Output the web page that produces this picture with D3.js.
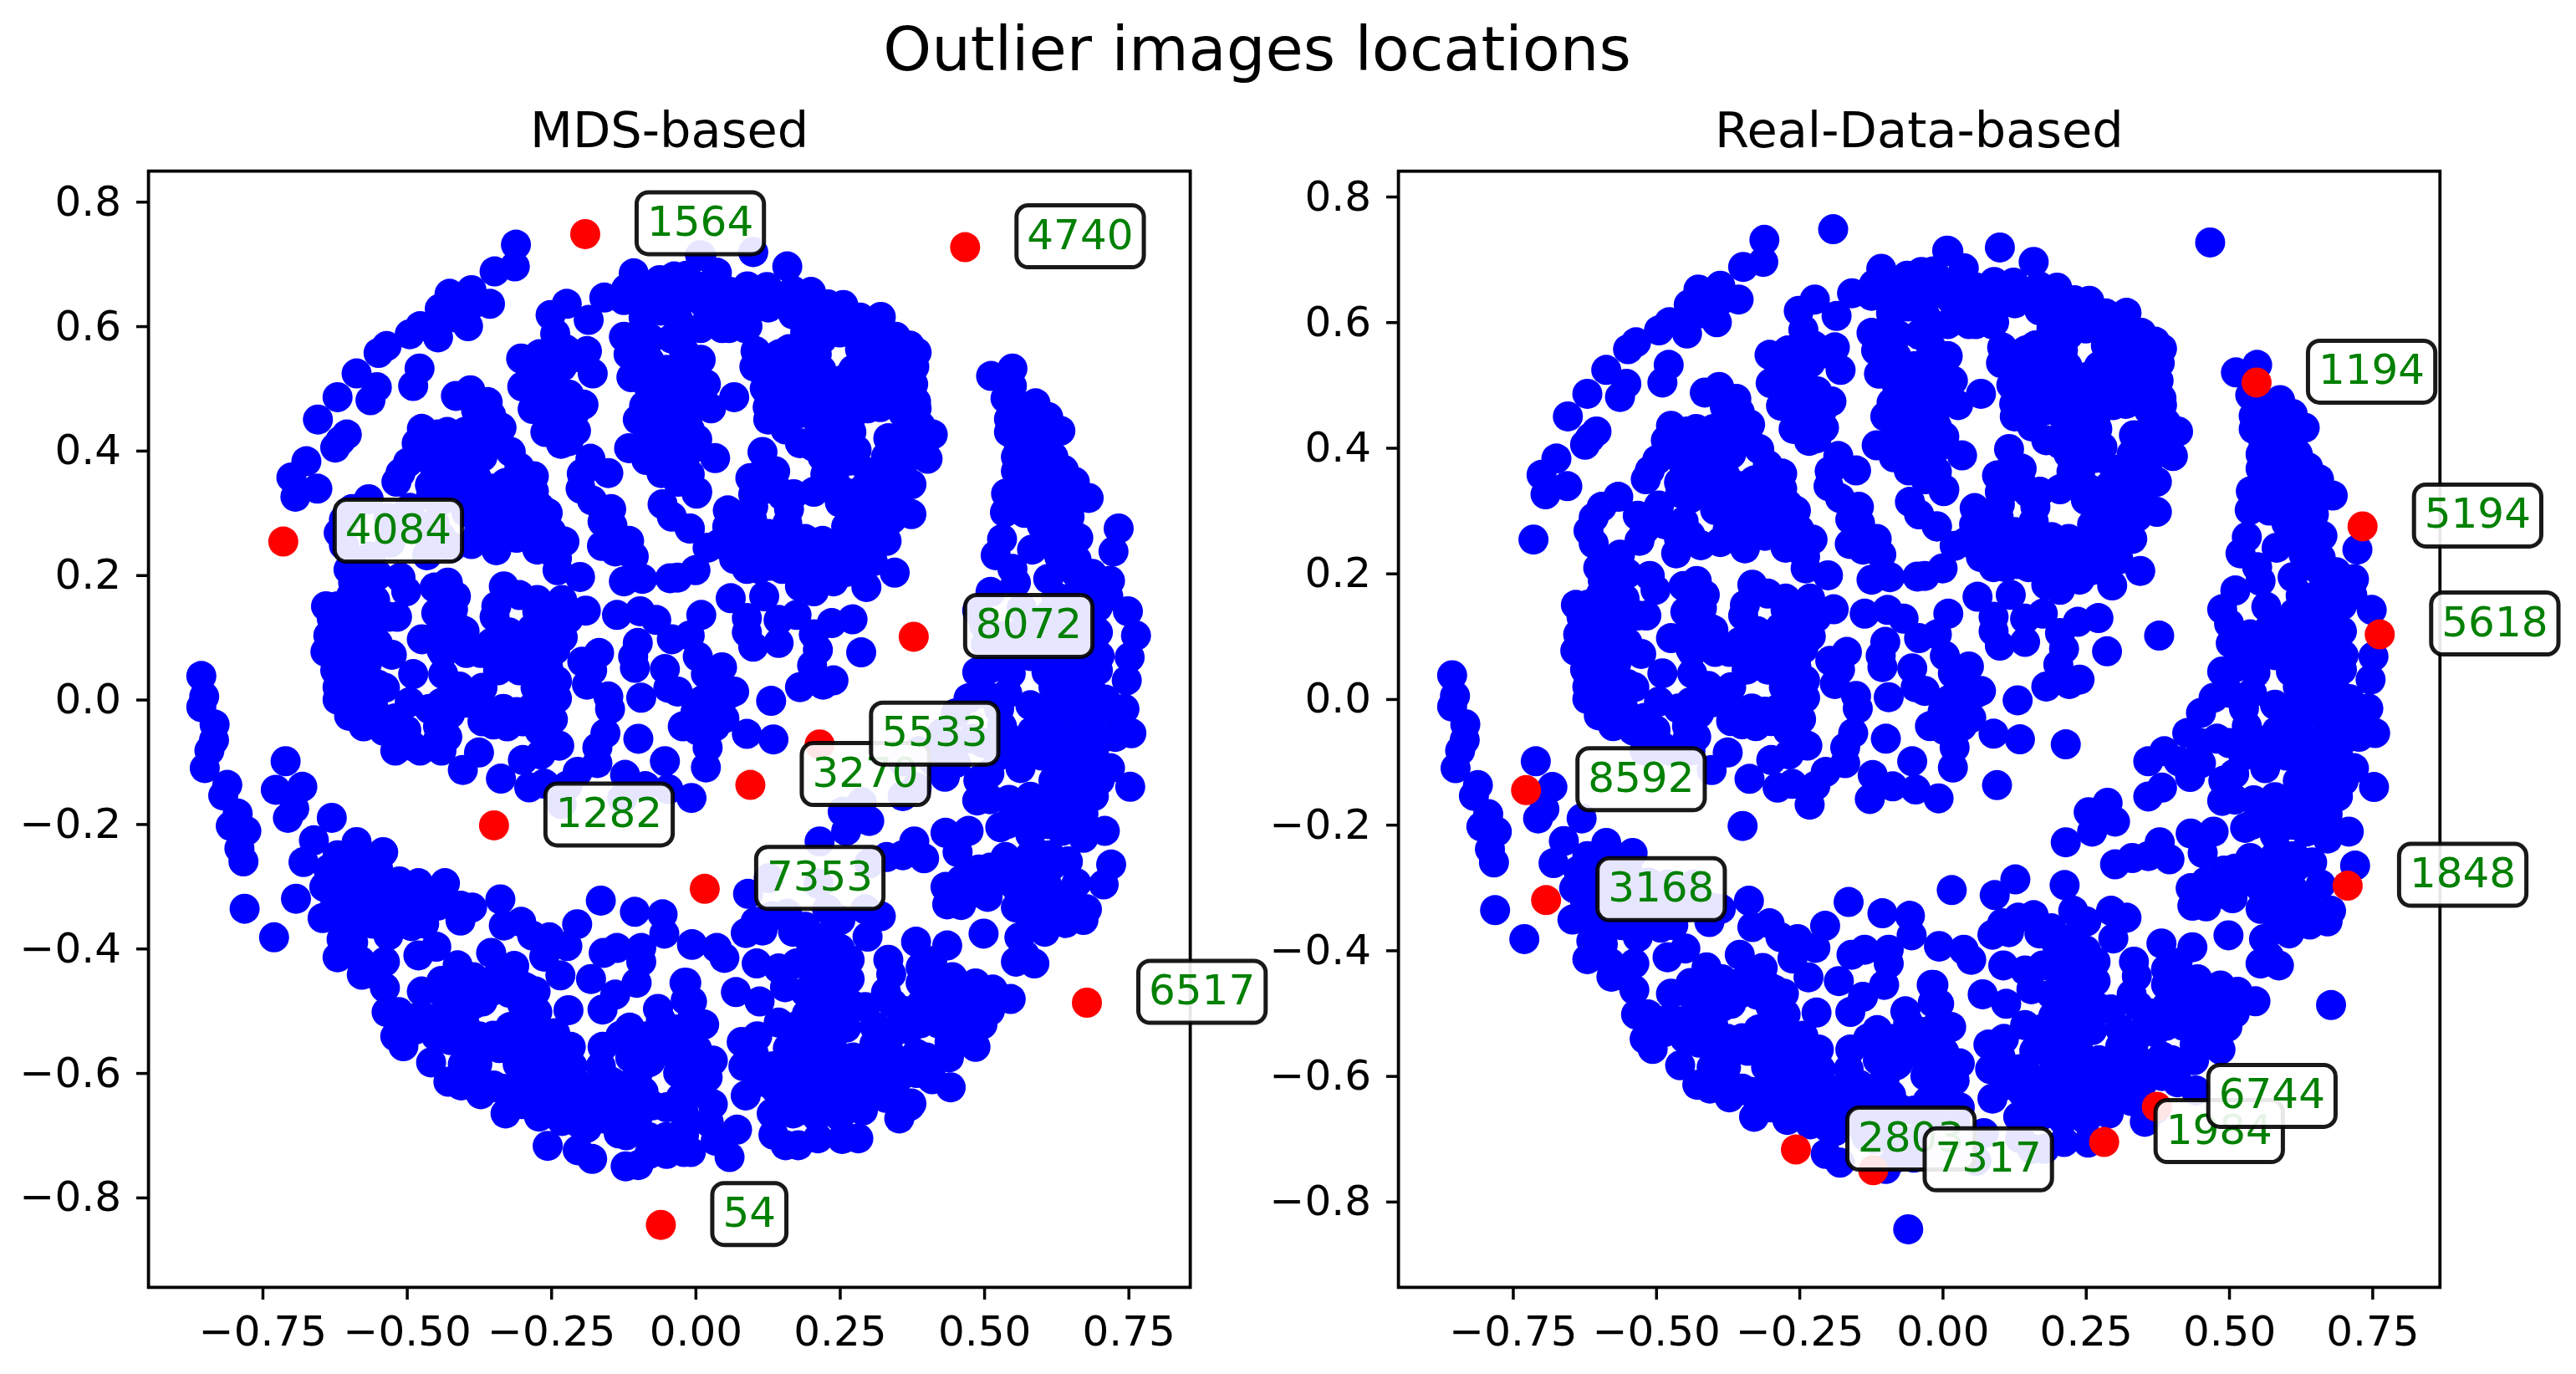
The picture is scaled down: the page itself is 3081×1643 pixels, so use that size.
<!DOCTYPE html>
<html><head><meta charset="utf-8">
<script src="https://cdn.jsdelivr.net/npm/d3@7"></script>
<style>html,body{margin:0;padding:0;background:#fff}svg{display:block}text{font-family:"DejaVu Sans",sans-serif}</style>
</head><body><svg id="c" width="3081" height="1643"></svg>
<script>
const figureTitle = "Outlier images locations";
const panelTitles = ["MDS-based", "Real-Data-based"];
const xTickValues = [-0.75,-0.5,-0.25,0,0.25,0.5,0.75];
const yTickValues = [-0.8,-0.6,-0.4,-0.2,0,0.2,0.4,0.6,0.8];
const leftIds = [4084,1564,4740,8072,3270,5533,1282,7353,54,6517];
const leftOutliers = [[-.714,.254],[-.191,.748],[.467,.727],[.378,.101],[.095,-.137],[.215,-.072],[-.349,-.202],[.016,-.304],[-.060,-.844],[.678,-.487]];
const rightIds = [1194,5194,5618,1848,2803,7317,1984,6744,8592,3168];
const rightOutliers = [[.548,.504],[.733,.275],[.763,.103],[.707,-.297],[-.256,-.717],[-.121,-.750],[.282,-.705],[.374,-.649],[-.727,-.145],[-.692,-.320]];

const upperArc = [[-.311,.731],[-.313,.696],[-.348,.688],[-.356,.636],[-.388,.658],[-.426,.652],[-.443,.628],[-.394,.600],[-.446,.582],[-.477,.600],[-.495,.587],[-.535,.568],[-.549,.557],[-.587,.524],[-.552,.502],[-.563,.481],[-.478,.532],[-.489,.504],[-.620,.486],[-.654,.450],[-.604,.426],[-.615,.416],[-.624,.405],[-.674,.383],[-.700,.357],[-.655,.339],[-.693,.326],[-.385,.636],[-.415,.614]];
const upperLeftCluster = [[-.415,.488],[-.390,.497],[-.360,.478],[-.354,.457],[-.336,.437],[-.320,.398],[-.305,.373],[-.280,.359],[-.474,.435],[-.446,.426],[-.400,.430],[-.483,.412],[-.498,.381],[-.511,.364],[-.518,.350],[-.446,.401],[-.403,.401],[-.369,.390],[-.360,.423],[-.452,.373],[-.415,.356],[-.379,.356],[-.458,.328],[-.397,.301],[-.354,.339],[-.329,.348],[-.299,.328],[-.283,.322],[-.256,.300],[-.280,.278],[-.311,.294],[-.299,.264],[-.274,.241],[-.227,.254],[-.240,.227],[-.239,.208],[-.200,.197],[-.360,.280],[-.345,.240],[-.388,.250],[-.422,.245],[-.465,.232],[-.529,.252],[-.532,.292],[-.495,.308],[-.452,.283],[-.440,.261],[-.566,.322],[-.595,.306],[-.609,.289],[-.618,.268],[-.609,.248],[-.563,.230],[-.575,.216],[-.601,.209],[-.511,.196],[-.501,.174],[-.593,.188],[-.597,.166],[-.569,.177],[-.429,.188],[-.452,.180],[-.415,.166],[-.332,.182],[-.305,.168],[-.231,.160],[-.274,.160],[-.124,.190],[-.092,.194],[-.044,.195]];
const lowerLeftCluster = [[-.640,.150],[-.575,.142],[-.517,.133],[-.532,.133],[-.449,.139],[-.434,.119],[-.409,.114],[-.345,.150],[-.348,.133],[-.274,.142],[-.237,.131],[-.190,.143],[-.262,.125],[-.283,.114],[-.299,.097],[-.329,.097],[-.253,.089],[-.243,.080],[-.636,.103],[-.641,.077],[-.600,.103],[-.575,.086],[-.587,.131],[-.624,.047],[-.575,.047],[-.606,.024],[-.538,.019],[-.526,.072],[-.489,.041],[-.474,.097],[-.446,.105],[-.437,.075],[-.397,.075],[-.372,.075],[-.437,.041],[-.409,.021],[-.369,.019],[-.342,.047],[-.305,.047],[-.283,.047],[-.277,.019],[-.495,-.004],[-.461,-.015],[-.425,-.023],[-.333,-.015],[-.240,.002],[-.268,.002],[-.603,-.009],[-.575,-.043],[-.600,-.026],[-.557,-.015],[-.501,-.049],[-.520,-.060],[-.446,-.043],[-.446,-.065],[-.369,-.035],[-.326,-.043],[-.299,-.035],[-.247,-.032],[-.520,-.082],[-.477,-.082],[-.440,-.082],[-.375,-.085],[-.403,-.113],[-.337,-.127],[-.299,-.097],[-.288,-.141],[-.262,-.135],[-.268,-.088],[-.236,-.074],[-.232,-.168],[-.222,-.138],[-.204,-.116],[-.170,-.102],[-.170,-.077],[-.156,-.054],[-.148,-.015],[-.151,.005],[-.094,.003],[-.099,-.063],[-.122,-.121],[-.127,-.159],[-.087,-.139],[-.053,-.099],[-.047,-.144],[-.007,-.158],[-.188,.024],[-.196,.061],[-.167,.075],[-.179,.047],[-.100,.091],[-.108,.069],[-.105,.051],[-.053,.049],[-.047,.019],[-.136,.136],[-.096,.142],[-.068,.128],[-.041,.097]];
const lowerArc = [[-.856,.038],[-.851,.005],[-.856,-.012],[-.833,-.040],[-.834,-.065],[-.842,-.082],[-.850,-.110],[-.811,-.137],[-.818,-.154],[-.793,-.183],[-.805,-.203],[-.778,-.211],[-.790,-.239],[-.783,-.260],[-.781,-.336],[-.730,-.382],[-.710,-.099],[-.681,-.140],[-.695,-.175],[-.706,-.190]];
const lowerCrescentLeft = [[-.630,-.190],[-.661,-.226],[-.587,-.229],[-.679,-.261],[-.541,-.245],[-.636,-.273],[-.643,-.301],[-.624,-.323],[-.646,-.351],[-.609,-.359],[-.568,-.298],[-.544,-.301],[-.513,-.292],[-.480,-.295],[-.434,-.295],[-.446,-.331],[-.407,-.331],[-.387,-.334],[-.407,-.355],[-.562,-.340],[-.532,-.337],[-.489,-.325],[-.492,-.364],[-.532,-.379],[-.338,-.321],[-.586,-.259],[-.550,-.271],[-.332,-.363],[-.302,-.357],[-.283,-.379],[-.253,-.382],[-.205,-.361],[-.262,-.413],[-.222,-.396],[-.164,-.323],[-.105,-.341],[-.057,-.345],[-.054,-.376],[-.006,-.394],[-.613,-.385],[-.620,-.414],[-.578,-.442],[-.593,-.390],[-.538,-.421],[-.538,-.463],[-.535,-.502],[-.514,-.502],[-.520,-.541],[-.506,-.557],[-.480,-.411],[-.449,-.397],[-.474,-.469],[-.440,-.452],[-.412,-.427],[-.385,-.446],[-.354,-.407],[-.314,-.428],[-.234,-.443],[-.181,-.449],[-.277,-.469],[-.323,-.471],[-.369,-.485],[-.422,-.494],[-.458,-.513],[-.428,-.519],[-.425,-.547],[-.375,-.541],[-.321,-.526],[-.296,-.547],[-.274,-.502],[-.243,-.536],[-.220,-.499],[-.216,-.558],[-.161,-.498],[-.139,-.474],[-.102,-.455],[-.161,-.558],[-.164,-.589],[-.113,-.575],[-.159,-.407],[-.136,-.399],[-.094,-.399],[-.094,-.421],[-.065,-.497],[-.114,-.527],[-.084,-.541],[-.044,-.533],[-.019,-.455],[-.017,-.483],[-.007,-.564],[-.458,-.583],[-.428,-.614],[-.378,-.586],[-.406,-.620],[-.372,-.634],[-.336,-.625],[-.329,-.665],[-.308,-.586],[-.277,-.600],[-.283,-.625],[-.213,-.589],[-.271,-.670],[-.234,-.642],[-.256,-.628],[-.204,-.724],[-.179,-.738],[-.231,-.677],[-.200,-.682],[-.188,-.688],[-.148,-.631],[-.142,-.655],[-.160,-.673],[-.133,-.697],[-.099,-.748],[-.081,-.703],[-.051,-.703],[-.075,-.652],[-.020,-.727],[-.081,-.583],[-.026,-.640],[-.020,-.565]];
const upperMiddleCluster = [[-.223,.636],[-.251,.618],[-.185,.610],[-.243,.588],[-.188,.560],[-.302,.548],[-.262,.552],[-.225,.563],[-.268,.524],[-.231,.535],[-.178,.524],[-.300,.503],[-.262,.496],[-.219,.490],[-.194,.474],[-.282,.467],[-.243,.454],[-.207,.432],[-.242,.434],[-.233,.411],[-.182,.387],[-.151,.364],[-.197,.363],[-.199,.339],[-.179,.320],[-.146,.306],[-.161,.286],[-.144,.280],[-.115,.255],[-.162,.247],[-.139,.238],[-.107,.230],[-.107,.685],[-.158,.646],[-.124,.642],[-.062,.674],[-.037,.680],[-.065,.647],[-.029,.636],[-.090,.614],[-.124,.583],[-.116,.555],[-.111,.518],[-.078,.580],[-.041,.580],[-.050,.530],[-.010,.530],[-.089,.472],[-.059,.488],[-.022,.502],[-.072,.434],[-.115,.404],[-.072,.401],[-.059,.364],[-.022,.395],[-.010,.434],[-.029,.468],[-.057,.314],[-.041,.294],[-.010,.275],[.002,.331],[.008,.714]];
const upperRightCluster = [[.010,.713],[.037,.686],[.100,.719],[.159,.696],[.090,.664],[.124,.663],[.169,.657],[-.016,.681],[.003,.664],[.040,.664],[.076,.639],[.126,.630],[.169,.619],[.212,.628],[.256,.634],[.199,.614],[.236,.602],[.285,.614],[.321,.615],[.347,.583],[.383,.558],[.371,.569],[.379,.535],[.377,.507],[.382,.479],[.347,.524],[.310,.591],[.285,.563],[.316,.546],[.273,.530],[.253,.513],[.218,.530],[.162,.563],[.161,.530],[.209,.586],[.104,.560],[.102,.535],[.046,.597],[.009,.597],[-.022,.597],[.015,.636],[-.034,.636],[.058,.597],[.086,.597],[.009,.546],[.018,.507],[-.016,.518],[-.003,.479],[.067,.486],[.027,.468],[.003,.418],[.034,.388],[.003,.334],[-.010,.362],[-.022,.390],[.141,.479],[.150,.457],[.202,.485],[.126,.450],[.156,.434],[.181,.412],[.205,.406],[.236,.412],[.224,.429],[.270,.479],[.298,.468],[.255,.496],[.267,.446],[.279,.401],[.267,.384],[.334,.420],[.411,.426],[.365,.434],[.383,.468],[.402,.387],[.359,.418],[.359,.378],[.316,.367],[.374,.346],[.334,.345],[.291,.339],[.374,.298],[.347,.317],[.313,.300],[.250,.317],[.225,.362],[.205,.334],[.138,.367],[.095,.356],[.116,.398],[.150,.328],[.123,.339],[.162,.306],[.159,.283],[.056,.304],[.098,.289],[.126,.266],[-.010,.275],[.055,.278],[.021,.244],[0,.208],[-.031,.196],[.067,.226],[.111,.250],[.138,.238],[.190,.258],[.169,.238],[.212,.233],[.242,.227],[.261,.278],[.298,.261],[.331,.255],[.307,.222],[.345,.204],[.296,.181],[.239,.190],[.205,.174],[.181,.182],[.119,.166],[.061,.163],[.089,.210],[.175,.216]];
const middleCluster = [[.010,.136],[-.010,.103],[.089,.131],[.089,.108],[.100,.085],[.144,.091],[.144,.128],[.175,.136],[.236,.123],[.272,.129],[.205,.105],[.212,.080],[.202,.055],[.287,.076],[.239,.031],[.221,.024],[.181,.020],[.046,.052],[.004,.069],[.018,.041],[.067,.013],[.012,-.001],[.043,-.001],[.131,-.002],[-.031,.013],[.034,.024],[-.022,-.043],[.003,-.049],[.034,-.043],[.021,-.077],[.018,-.109],[.089,-.055],[.135,-.064]];
const lowerCrescentRight = [[.127,-.287],[.091,-.312],[.213,-.296],[.104,-.357],[.132,-.348],[.159,-.344],[.087,-.375],[.116,-.371],[.190,-.365],[.228,-.337],[.251,-.354],[.294,-.337],[.321,-.348],[.298,-.381],[.199,-.390],[.230,-.390],[-.006,-.393],[.037,-.399],[.050,-.415],[.106,-.424],[.144,-.432],[.175,-.424],[.155,-.462],[.267,-.418],[.224,-.427],[.267,-.449],[.221,-.457],[.255,-.460],[.070,-.470],[.111,-.485],[-.016,-.455],[-.006,-.485],[.015,-.522],[-.031,-.530],[.003,-.562],[.021,-.607],[.006,-.631],[.087,-.636],[.107,-.541],[.144,-.519],[.193,-.505],[.101,-.569],[.083,-.589],[.135,-.589],[.187,-.558],[.230,-.530],[.261,-.527],[.294,-.494],[.341,-.488],[.347,-.530],[.334,-.418],[.382,-.389],[.436,-.395],[.339,-.441],[.390,-.455],[.423,-.449],[.485,-.456],[.515,-.466],[.546,-.481],[.445,-.485],[.488,-.494],[.497,-.522],[.485,-.558],[.439,-.575],[.39,-.52],[.310,-.553],[.273,-.575],[.187,-.600],[.150,-.600],[.255,-.589],[.236,-.555],[.347,-.578],[.383,-.600],[.322,-.606],[.371,-.653],[.353,-.673],[.304,-.634],[.261,-.634],[.230,-.651],[.442,-.623],[.285,-.603],[.132,-.665],[.169,-.665],[.135,-.699],[.156,-.716],[.178,-.716],[.212,-.705],[.254,-.706],[.059,-.735],[.072,-.691],[-.008,-.727],[.035,-.709],[.023,-.679],[-.017,-.685],[-.032,-.715]];
const rightCrescent = [[.512,.520],[.549,.532],[.537,.484],[.589,.476],[.611,.454],[.632,.432],[.543,.451],[.580,.440],[.543,.430],[.555,.390],[.605,.418],[.555,.367],[.605,.378],[.638,.369],[.657,.350],[.681,.324],[.641,.328],[.598,.345],[.538,.331],[.574,.328],[.536,.301],[.617,.300],[.648,.294],[.663,.260],[.724,.238],[.531,.258],[.520,.232],[.583,.241],[.549,.210],[.617,.255],[.555,.188],[.611,.194],[.657,.205],[.687,.202],[.718,.191],[.715,.166],[.697,.149],[.511,.173],[.749,.142],[.488,.143],[.565,.147],[.614,.137],[.654,.159],[.697,.108],[.672,.086],[.571,.114],[.537,.103],[.503,.089],[.537,.077],[.611,.089],[.648,.100],[.608,.044],[.641,.055],[.697,.047],[.752,.068],[.747,.031],[.684,.019],[.546,.042],[.488,.044],[.473,.002],[.451,-.022],[.526,-.015],[.580,-.009],[.635,.013],[.666,.007],[.531,-.043],[.427,-.054],[.672,-.040],[.727,-.018],[.743,-.015],[.755,-.054],[.727,-.060],[.583,-.051],[.623,-.054],[.666,-.065],[.479,-.063],[.359,-.099],[.387,-.083],[.412,-.099],[.451,-.102],[.432,-.124],[.509,-.119],[.559,-.088],[.563,-.110],[.359,-.155],[.383,-.141],[.629,-.088],[.629,-.121],[.718,-.110],[.690,-.088],[.660,-.121],[.753,-.140],[.635,-.149],[.690,-.155],[.672,-.183],[.488,-.162],[.543,-.161],[.580,-.156],[.528,-.205],[.580,-.217],[.592,-.183],[.635,-.211],[.672,-.222],[.709,-.211],[.617,-.177],[.614,-.250],[.720,-.265],[.433,-.214],[.473,-.211],[.454,-.245],[.537,-.253],[.491,-.273],[.433,-.301],[.436,-.329],[.476,-.306],[.506,-.317],[.499,-.376],[.555,-.301],[.586,-.281],[.617,-.267],[.555,-.334],[.592,-.329],[.635,-.323],[.660,-.295],[.678,-.337],[.672,-.354],[.641,-.359],[.561,-.382],[.605,-.373],[.555,-.421],[.587,-.424],[.301,-.263],[.331,-.253],[.359,-.250],[.379,-.228],[.396,-.255],[.215,-.228],[.261,-.211],[.255,-.180],[.288,-.165],[.301,-.195]];
const interiorUpperLeft = [[-.43,.415],[-.385,.41],[-.34,.415],[-.47,.39],[-.425,.38],[-.395,.38],[-.46,.345],[-.43,.345],[-.395,.33],[-.37,.325],[-.44,.32],[-.33,.32],[-.31,.33],[-.49,.28],[-.46,.255],[-.52,.27],[-.50,.29],[-.33,.295],[-.33,.27],[-.31,.26],[-.27,.31],[-.25,.27],[-.265,.255],[-.30,.30],[-.28,.30],[-.375,.27],[-.36,.31],[-.31,.35],[-.28,.335],[-.43,.43],[-.37,.44],[-.38,.465],[-.55,.20],[-.555,.16],[-.56,.195],[-.62,.15],[-.58,.13],[-.61,.13],[-.63,.13],[-.56,.115],[-.62,.08],[-.59,.07],[-.55,.09],[-.60,.05],[-.565,.02],[-.60,.0],[-.62,.02],[-.58,-.015],[-.62,.0],[-.42,.145],[-.41,.09],[-.44,.08],[-.40,.11],[-.33,.07],[-.30,.075],[-.265,.07],[-.255,.05],[-.26,.03],[-.24,.03],[-.27,.10],[-.23,.10],[-.22,.13],[-.40,-.005],[-.37,-.01],[-.44,-.005],[-.52,-.03],[-.54,-.05],[-.49,-.075],[-.43,-.06],[-.35,-.04],[-.31,-.02],[-.27,-.02],[-.25,.0],[-.27,-.05],[-.514,.283],[-.483,.278],[-.299,.063],[-.323,.108],[-.354,.091],[-.256,.058],[-.243,.024],[-.286,-.015],[-.250,-.009],[-.569,.058],[-.550,.024],[-.575,.002],[-.600,.013]];
const interiorUpperMiddle = [[-.285,.525],[-.25,.505],[-.24,.47],[-.27,.47],[-.21,.46],[-.26,.43],[-.225,.44],[-.22,.415],[-.27,.555],[-.235,.56],[-.20,.55],[-.12,.66],[-.085,.66],[-.05,.655],[-.015,.655],[-.09,.635],[-.06,.625],[-.03,.61],[-.095,.59],[-.10,.56],[-.08,.545],[-.095,.53],[-.02,.56],[-.015,.50],[-.08,.50],[-.085,.44],[-.10,.45],[-.04,.50],[-.045,.46],[-.04,.43],[-.09,.41],[-.045,.40],[-.085,.385],[-.045,.375],[-.03,.35],[-.01,.40],[0,.50],[0,.47],[.02,.66],[.06,.655],[.10,.635],[.14,.64],[.20,.655],[.23,.635],[.05,.625],[.09,.60],[.19,.59],[.22,.58],[.25,.59],[.29,.585],[.33,.58],[.26,.61],[.30,.60],[.35,.55],[.31,.52],[.34,.50],[.35,.48],[.30,.50],[.32,.47],[.20,.505],[.23,.50],[.19,.53],[.16,.50],[.24,.47],[.21,.45],[.18,.46],[.14,.50],[.27,.43],[.23,.44],[.24,.385],[.22,.39],[.36,.39],[.33,.39],[.38,.42],[.39,.44],[.36,.46],[.35,.50],[.12,.37],[.10,.33],[.14,.34],[.17,.33],[.30,.365],[.33,.31],[.34,.29],[.30,.28],[.27,.25],[.30,.235],[.28,.21],[.33,.33],[.10,.31],[.07,.27],[.04,.25],[.09,.26],[.13,.215],[.15,.21],[.20,.21],[.23,.20],[.26,.205],[.17,.255],[.22,.255],[.25,.25],[.11,.21],[.135,.52],[.12,.50],[.125,.47],[.13,.545],[.145,.555],[.18,.56],[.21,.555],[.24,.36],[.255,.335],[.27,.31]];
const interiorLowerCrescent = [[-.60,-.30],[-.62,-.25],[-.60,-.33],[-.58,-.33],[-.61,-.28],[-.52,-.31],[-.50,-.35],[-.46,-.31],[-.56,-.36],[-.47,-.36],[-.58,-.42],[-.56,-.44],[-.505,-.53],[-.48,-.51],[-.485,-.53],[-.45,-.54],[-.44,-.47],[-.41,-.47],[-.385,-.49],[-.35,-.45],[-.30,-.46],[-.30,-.49],[-.40,-.52],[-.40,-.55],[-.35,-.54],[-.34,-.56],[-.30,-.52],[-.27,-.53],[-.27,-.56],[-.24,-.565],[-.38,-.61],[-.40,-.59],[-.35,-.62],[-.31,-.62],[-.30,-.65],[-.26,-.66],[-.23,-.61],[-.20,-.62],[-.17,-.62],[-.22,-.67],[-.19,-.655],[-.16,-.64],[-.25,-.59],[-.13,-.54],[-.11,-.54],[-.06,-.565],[-.03,-.60],[-.10,-.60],[-.09,-.63],[-.12,-.64],[-.05,-.655],[-.02,-.665],[-.10,-.67],[-.12,-.70],[-.08,-.73],[-.05,-.73],[-.02,-.70],[0,-.63],[0,-.59],[.03,-.65],[.03,-.58],[-.01,-.52],[-.06,-.515],[.20,-.43],[.25,-.40],[.19,-.47],[.24,-.49],[.27,-.49],[.33,-.47],[.36,-.50],[.39,-.49],[.42,-.48],[.42,-.52],[.37,-.53],[.46,-.52],[.51,-.50],[.46,-.46],[.40,-.575],[.31,-.525],[.23,-.57],[.21,-.54],[.175,-.525],[.21,-.585],[.32,-.58],[.35,-.61],[.41,-.61],[.29,-.625],[.33,-.64],[.20,-.63],[.15,-.63],[.18,-.66],[.21,-.67],[.25,-.67],[.29,-.66],[.16,-.56],[.11,-.60],[.08,-.55],[.39,-.43],[.41,-.42],[.22,-.48],[.44,-.45],[.47,-.49],[.44,-.55],[.05,-.03],[.06,.01],[0,-.02],[.02,-.03],[.169,-.373],[.230,-.379],[.242,-.491],[.211,-.519],[.175,-.525],[.365,-.502],[.334,-.547],[.384,-.508],[.408,-.508],[.469,-.480],[.445,-.446],[.408,-.474],[.383,-.569],[.334,-.581],[.242,-.609],[.212,-.620],[.175,-.625],[.138,-.625],[.113,-.614],[-.397,-.469],[-.354,-.469],[-.317,-.452],[-.293,-.463],[-.385,-.564],[-.354,-.547],[-.293,-.570],[-.243,-.575],[-.280,-.536],[-.323,-.553],[-.403,-.586],[-.360,-.625],[-.311,-.642],[-.231,-.614],[-.194,-.648],[-.059,-.536],[-.029,-.547],[-.078,-.581],[-.022,-.592],[-.108,-.614],[-.145,-.614],[-.170,-.631]];
const interiorRightCrescent = [[.55,.47],[.575,.455],[.56,.41],[.58,.40],[.62,.39],[.58,.36],[.615,.345],[.64,.345],[.565,.34],[.60,.31],[.57,.30],[.64,.27],[.60,.28],[.63,.23],[.66,.225],[.69,.17],[.66,.17],[.625,.165],[.585,.10],[.60,.12],[.63,.12],[.67,.13],[.70,.07],[.67,.03],[.65,.03],[.62,.02],[.665,.055],[.61,-.02],[.64,-.02],[.69,-.02],[.71,0],[.66,-.09],[.67,-.12],[.71,-.06],[.70,-.13],[.66,-.15],[.62,-.13],[.60,-.09],[.63,-.15],[.65,-.18],[.61,-.20],[.67,-.20],[.54,-.20],[.56,-.18],[.51,-.16],[.49,-.13],[.60,-.25],[.58,-.25],[.57,-.30],[.61,-.30],[.645,-.26],[.585,-.36],[.625,-.35],[.53,-.29],[.56,-.27],[.51,-.27],[.49,-.31],[.46,-.29],[.46,-.33],[.57,-.41],[.50,.01],[.51,.05],[.50,.12],[.55,.10],[.54,.01],[.45,-.07],[.50,-.07],[.525,-.09],[.54,-.06],[.60,.07],[.58,.07],[.64,.085]];

const sharedPoints = [].concat(upperArc, upperLeftCluster, lowerLeftCluster, lowerArc, lowerCrescentLeft, upperMiddleCluster, upperRightCluster, middleCluster, lowerCrescentRight, rightCrescent, interiorUpperLeft, interiorUpperMiddle, interiorLowerCrescent, interiorRightCrescent);

const svg = d3.select("#c");
const panels = [
  {title:panelTitles[0], ids:leftIds, reds:leftOutliers, others:rightOutliers,
   x:d3.scaleLinear().domain([-0.9475,0.857]).range([177.6,1423.6]),
   y:d3.scaleLinear().domain([-0.9444,0.8492]).range([1539.4,204.6])},
  {title:panelTitles[1], ids:rightIds, reds:rightOutliers, others:leftOutliers,
   x:d3.scaleLinear().domain([-0.9497,0.8681]).range([1672.6,2918.3]),
   y:d3.scaleLinear().domain([-0.9365,0.8404]).range([1539.4,204.7])}
];
svg.append("text").attr("x",1503.5).attr("y",84).attr("text-anchor","middle").attr("font-size",73.6).text(figureTitle);
const minus = s => s.replace("-", "\u2212");
panels.forEach(p=>{
  const [x0,x1]=p.x.range(), [y1,y0]=p.y.range();
  const g=svg.append("g");
  g.selectAll("circle.b").data(sharedPoints.concat(p.others)).join("circle").attr("cx",d=>p.x(d[0])).attr("cy",d=>p.y(d[1])).attr("r",18).attr("fill","#0000ff");
  g.selectAll("circle.r").data(p.reds).join("circle").attr("class","r").attr("cx",d=>p.x(d[0])).attr("cy",d=>p.y(d[1])).attr("r",18).attr("fill","#ff0000");
  g.append("rect").attr("x",x0).attr("y",y0).attr("width",x1-x0).attr("height",y1-y0).attr("fill","none").attr("stroke","#000").attr("stroke-width",3.8);
  const ax=d3.axisBottom(p.x).tickValues(xTickValues).tickSize(14.6).tickPadding(20).tickFormat(d=>minus(d3.format(".2f")(d)));
  const ay=d3.axisLeft(p.y).tickValues(yTickValues).tickSize(14.6).tickPadding(18).tickFormat(d=>minus(d3.format(".1f")(d)));
  const gx=svg.append("g").attr("transform",`translate(0,${y1})`).call(ax);
  const gy=svg.append("g").attr("transform",`translate(${x0},0)`).call(ay);
  [gx,gy].forEach(a=>{a.select(".domain").remove();a.selectAll("line").attr("stroke","#000").attr("stroke-width",3.5);a.selectAll("text").attr("font-size",50).attr("font-family",'"DejaVu Sans"').attr("fill","#000");});
  svg.append("text").attr("x",(x0+x1)/2).attr("y",176).attr("text-anchor","middle").attr("font-size",59).text(p.title);
  p.reds.forEach((d,i)=>{
    const px=p.x(d[0]), py=p.y(d[1]);
    const lg=svg.append("g");
    const rect=lg.append("rect");
    const t=lg.append("text").attr("x",px+59+15).attr("y",py-13+15).attr("font-size",50).attr("fill","#008000").text(p.ids[i]);
    const w=t.node().getComputedTextLength();
    rect.attr("x",px+61.5).attr("y",py-13-37).attr("width",w+25).attr("height",74).attr("rx",14).attr("fill","#fff").attr("fill-opacity",.9).attr("stroke","#000").attr("stroke-opacity",.9).attr("stroke-width",5);
  });
});
</script></body></html>
